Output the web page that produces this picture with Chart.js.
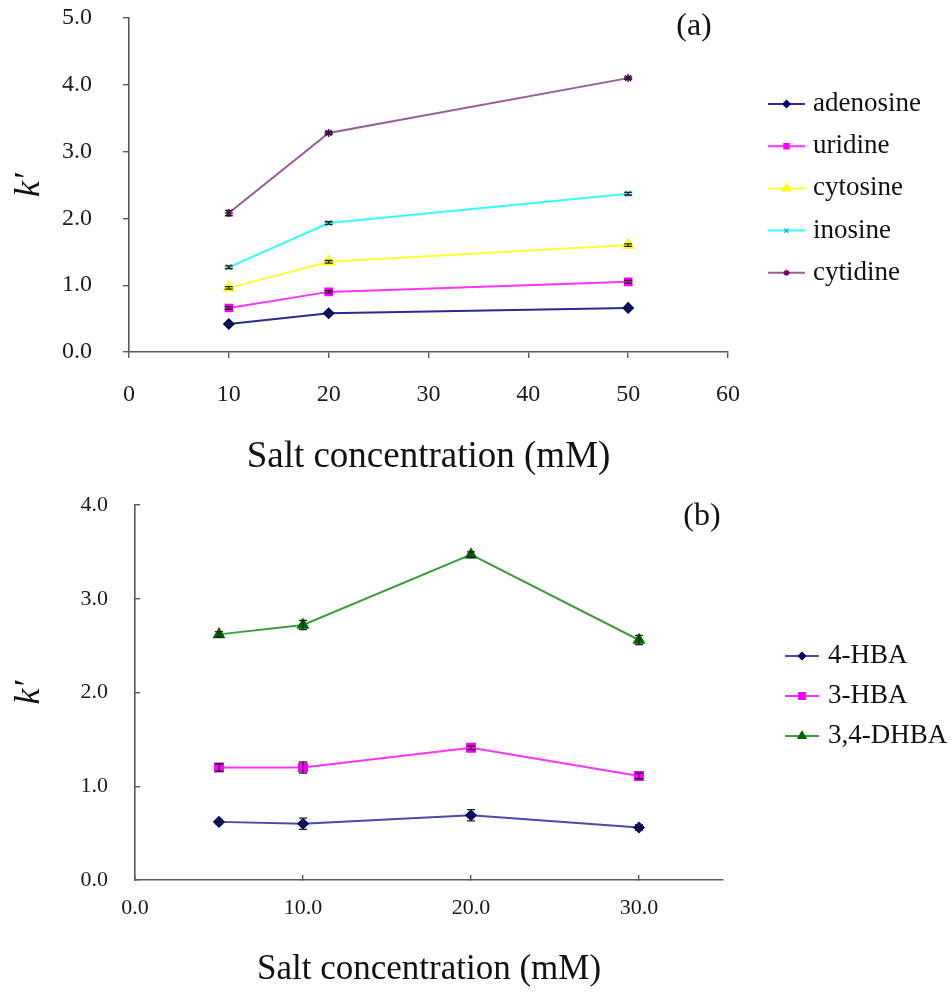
<!DOCTYPE html>
<html><head><meta charset="utf-8">
<script src="https://cdn.jsdelivr.net/npm/chart.js@4/dist/chart.umd.min.js"></script>
<style>
html,body{margin:0;padding:0;background:#fff;}
#wrap{position:relative;width:951px;height:998px;background:#fff;}
#c1{position:absolute;left:0;top:0;}
#c2{position:absolute;left:0;top:490px;}
</style></head><body>
<div id="wrap">
<canvas id="c1" width="951" height="490" style="width:951px;height:490px"></canvas>
<canvas id="c2" width="951" height="508" style="width:951px;height:508px"></canvas>
</div>
<script>
// ---------- Data: panel (a) ----------
const topX = [10, 20, 50];
const adenosine = [0.42, 0.58, 0.66];
const uridine   = [0.66, 0.90, 1.05];
const cytosine  = [0.96, 1.35, 1.60];
const inosine   = [1.27, 1.93, 2.37];
const cytidine  = [2.08, 3.28, 4.10];
const adenosineErr = [0.02, 0.02, 0.02];
const uridineErr   = [0.02, 0.02, 0.02];
const cytosineErr  = [0.02, 0.02, 0.02];
const inosineErr   = [0.02, 0.02, 0.02];
const cytidineErr  = [0.04, 0.02, 0.02];
const topXTicks = [0, 10, 20, 30, 40, 50, 60];
const topYTicks = [0, 1, 2, 3, 4, 5];

// ---------- Data: panel (b) ----------
const botX = [5, 10, 20, 30];
const hba4   = [0.62, 0.60, 0.69, 0.56];
const hba3   = [1.20, 1.20, 1.41, 1.11];
const dhba34 = [2.62, 2.72, 3.47, 2.56];
const hba4Err   = [0.02, 0.06, 0.06, 0.03];
const hba3Err   = [0.04, 0.06, 0.02, 0.03];
const dhba34Err = [0.03, 0.05, 0.03, 0.05];
const botXTicks = [0, 10, 20, 30];
const botYTicks = [0, 1, 2, 3, 4];

const SERIF = '"Liberation Serif", "Times New Roman", serif';
const AXIS = '#5a5a5a';
const TICKC = '#1a1a1a';

function pts(xs, ys){ return xs.map((x,i)=>({x:x, y:ys[i]})); }

function ds(label, xs, ys, errs, line, mark, style, r){
  return {label, data: pts(xs, ys), errors: errs, borderColor: line, borderWidth: 2,
    backgroundColor: mark, pointBackgroundColor: mark, pointBorderColor: mark,
    pointStyle: style, pointRadius: r, pointBorderWidth: 1.5, tension: 0, fill: false};
}

function drawMarker(ctx, style, r, x, y, color){
  ctx.save();
  ctx.fillStyle = color; ctx.strokeStyle = color; ctx.lineWidth = 1.5;
  if (Chart.helpers && Chart.helpers.drawPoint) {
    Chart.helpers.drawPoint(ctx, {pointStyle: style, radius: r, rotation: 0, borderWidth: 1.5}, x, y);
  } else {
    ctx.beginPath(); ctx.arc(x, y, r, 0, Math.PI*2); ctx.fill();
  }
  ctx.restore();
}

const errorBars = {
  id: 'errorBars',
  afterDatasetsDraw(chart){
    const ctx = chart.ctx, xs = chart.scales.x, ys = chart.scales.y;
    chart.data.datasets.forEach(d => {
      if (!d.errors) return;
      d.data.forEach((p, j) => {
        const e = d.errors[j]; if (!e) return;
        const x = xs.getPixelForValue(p.x);
        const y1 = ys.getPixelForValue(p.y - e), y2 = ys.getPixelForValue(p.y + e);
        ctx.save(); ctx.strokeStyle = '#222'; ctx.lineWidth = 1.3;
        ctx.beginPath();
        ctx.moveTo(x, y1); ctx.lineTo(x, y2);
        ctx.moveTo(x-4, y1); ctx.lineTo(x+4, y1);
        ctx.moveTo(x-4, y2); ctx.lineTo(x+4, y2);
        ctx.stroke(); ctx.restore();
      });
    });
  }
};

const lineLegend = {
  id: 'lineLegend',
  afterDraw(chart, args, o){
    const ctx = chart.ctx;
    chart.data.datasets.forEach((d, i) => {
      const y = o.y0 + i*o.dy;
      ctx.save();
      ctx.strokeStyle = d.borderColor; ctx.lineWidth = 2;
      ctx.beginPath(); ctx.moveTo(o.x1, y); ctx.lineTo(o.x2, y); ctx.stroke();
      ctx.restore();
      drawMarker(ctx, d.pointStyle, Math.max(3, d.pointRadius - 1.5), (o.x1+o.x2)/2, y, d.pointBackgroundColor);
      ctx.save();
      ctx.fillStyle = '#111'; ctx.font = o.font; ctx.textAlign = 'left'; ctx.textBaseline = 'middle';
      ctx.fillText(d.label, o.textX, y);
      ctx.restore();
    });
    if (o.panel) {
      ctx.save();
      ctx.fillStyle = '#111'; ctx.font = o.panelFont; ctx.textAlign = 'center'; ctx.textBaseline = 'middle';
      ctx.fillText(o.panel, o.panelX, o.panelY);
      ctx.restore();
    }
  }
};

function axes(cfg){
  return {
    x: {type: 'linear', min: cfg.xmin, max: cfg.xmax,
      afterBuildTicks: s => { s.ticks = cfg.xTicks.map(v => ({value: v})); },
      afterFit: s => { s.height = cfg.xh; s.paddingLeft = 0; s.paddingRight = 0; },
      border: {color: AXIS, width: 1.6},
      grid: {drawOnChartArea: false, color: AXIS, lineWidth: 1.4, tickLength: cfg.tl},
      ticks: {padding: cfg.xpad, color: TICKC, maxRotation: 0, autoSkip: false,
        font: {family: SERIF, size: cfg.tickSize}, callback: cfg.xfmt},
      title: {display: true, text: 'Salt concentration (mM)', color: '#111',
        font: {family: SERIF, size: cfg.titleSize}, padding: {top: 0, bottom: cfg.xtitlePad}}
    },
    y: {type: 'linear', min: cfg.ymin, max: cfg.ymax,
      afterBuildTicks: s => { s.ticks = cfg.yTicks.map(v => ({value: v})); },
      afterFit: s => { s.width = cfg.yw; s.paddingTop = 0; s.paddingBottom = 0; },
      border: {color: AXIS, width: 1.6},
      grid: {drawOnChartArea: false, color: AXIS, lineWidth: 1.4, tickLength: cfg.tl},
      ticks: {padding: cfg.ypad, color: TICKC, autoSkip: false,
        font: {family: SERIF, size: cfg.tickSize}, callback: v => Number(v).toFixed(1)},
      title: {display: true, text: 'k\u2032', color: '#111',
        font: {family: SERIF, size: 36, style: 'italic'}, padding: {top: cfg.ytitlePad, bottom: 0}}
    }
  };
}

new Chart(document.getElementById('c1'), {
  type: 'line',
  data: {datasets: [
    ds('adenosine', topX, adenosine, adenosineErr, '#2a2a90', '#000070', 'rectRot', 5),
    ds('uridine',   topX, uridine,   uridineErr,   '#ff33ff', '#ff00ff', 'rect', 5),
    ds('cytosine',  topX, cytosine,  cytosineErr,  '#ffff33', '#ffff00', 'triangle', 6),
    ds('inosine',   topX, inosine,   inosineErr,   '#33ffff', '#22bbbb', 'crossRot', 4),
    ds('cytidine',  topX, cytidine,  cytidineErr,  '#9b5b9b', '#660066', 'star', 4)
  ]},
  options: {
    responsive: false, animation: false,
    layout: {padding: {left: 0, top: 18, right: 223, bottom: 0}},
    scales: axes({xmin: 0, xmax: 60, ymin: 0, ymax: 5, xTicks: topXTicks, yTicks: topYTicks,
      xh: 138, yw: 129, tl: 6, xpad: 22, ypad: 31, tickSize: 24, titleSize: 37,
      xtitlePad: 11, ytitlePad: 8, xfmt: v => String(v)}),
    plugins: {
      legend: {display: false}, tooltip: {enabled: false},
      lineLegend: {x1: 768, x2: 805, textX: 813, y0: 104, dy: 42.2, font: '27px ' + SERIF,
        panel: '(a)', panelX: 694, panelY: 27, panelFont: '32px ' + SERIF}
    }
  },
  plugins: [errorBars, lineLegend]
});

new Chart(document.getElementById('c2'), {
  type: 'line',
  data: {datasets: [
    ds('4-HBA',    botX, hba4,   hba4Err,   '#4a4aa8', '#000070', 'rectRot', 5),
    ds('3-HBA',    botX, hba3,   hba3Err,   '#ff33ff', '#ff00ff', 'rect', 6),
    ds('3,4-DHBA', botX, dhba34, dhba34Err, '#3c9c3c', '#006600', 'triangle', 6)
  ]},
  options: {
    responsive: false, animation: false,
    layout: {padding: {left: 0, top: 15, right: 228, bottom: 0}},
    scales: axes({xmin: 0, xmax: 35, ymin: 0, ymax: 4, xTicks: botXTicks, yTicks: botYTicks,
      xh: 118, yw: 135, tl: -5, xpad: 20, ypad: 32, tickSize: 22, titleSize: 35,
      xtitlePad: 7, ytitlePad: 8, xfmt: v => Number(v).toFixed(1)}),
    plugins: {
      legend: {display: false}, tooltip: {enabled: false},
      lineLegend: {x1: 785, x2: 819, textX: 828, y0: 166, dy: 40, font: '27px ' + SERIF,
        panel: '(b)', panelX: 702, panelY: 27, panelFont: '32px ' + SERIF}
    }
  },
  plugins: [errorBars, lineLegend]
});
</script>
</body></html>
